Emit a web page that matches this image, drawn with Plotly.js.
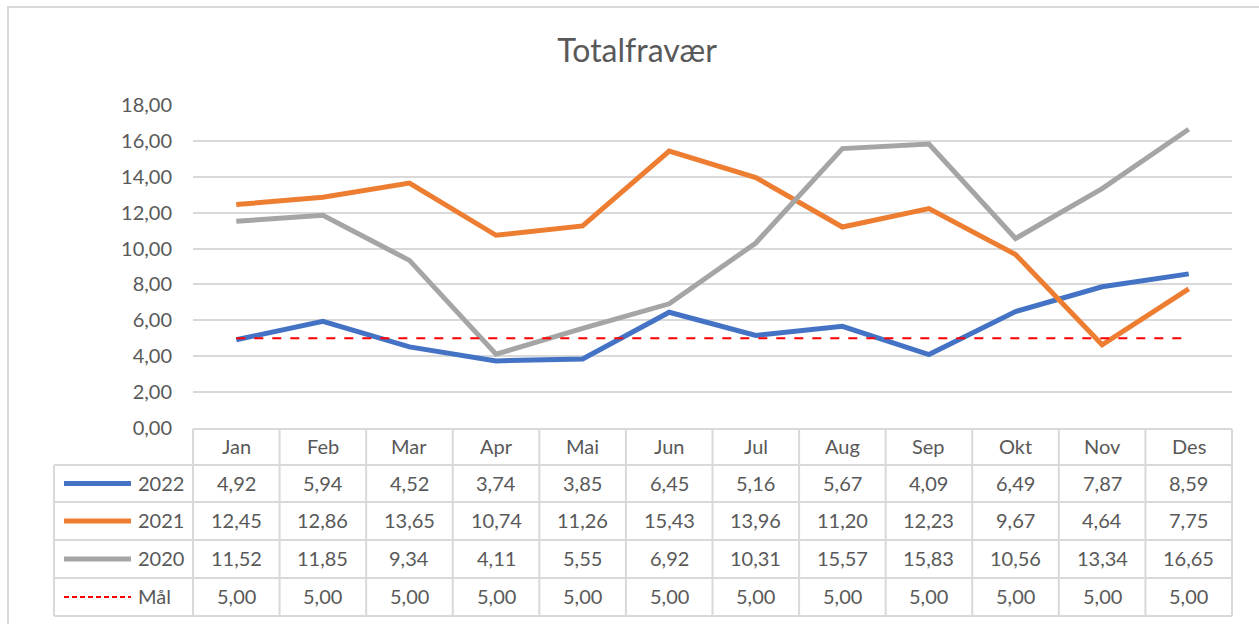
<!DOCTYPE html>
<html>
<head>
<meta charset="utf-8">
<script src="https://cdn.plot.ly/plotly-3.0.1.min.js"></script>
<style>
html,body{margin:0;padding:0;background:#fff;}
#chart{width:1259px;height:624px;}
</style>
</head>
<body>
<div id="chart"></div>
<script>
const months = ['Jan','Feb','Mar','Apr','Mai','Jun','Jul','Aug','Sep','Okt','Nov','Des'];
const y2022 = [4.92,5.94,4.52,3.74,3.85,6.45,5.16,5.67,4.09,6.49,7.87,8.59];
const y2021 = [12.45,12.86,13.65,10.74,11.26,15.43,13.96,11.20,12.23,9.67,4.64,7.75];
const y2020 = [11.52,11.85,9.34,4.11,5.55,6.92,10.31,15.57,15.83,10.56,13.34,16.65];
const maal  = [5.00,5.00,5.00,5.00,5.00,5.00,5.00,5.00,5.00,5.00,5.00,5.00];
const seriesNames = ['2022','2021','2020','Mål'];
const yTicks = [0,2,4,6,8,10,12,14,16,18];

const W = 1259, H = 624;
const plotL = 193, plotR = 1232, plotT = 105, plotB = 428;
const pw = plotR - plotL, ph = plotB - plotT;
const px2x = p => (p - plotL) / pw;
const py2y = p => (plotB - p) / ph;

const font = "Lato, 'Open Sans', sans-serif";
const txtColor = '#595959';
const gridColor = '#d9d9d9';
const fs = 20;

const styles = [
  {color:'#4472C4', width:5, dash:'solid'},
  {color:'#ED7D31', width:5, dash:'solid'},
  {color:'#A5A5A5', width:5, dash:'solid'},
  {color:'#FF0000', width:2, dash:'dash'}
];
const data = [y2022, y2021, y2020, maal];

const traces = data.map((d,i) => ({
  type:'scatter', mode:'lines', x: months, y: d, name: seriesNames[i],
  line:{color:styles[i].color, width:styles[i].width, dash:styles[i].dash, shape:'linear'},
  hoverinfo:'skip'
}));
const shapes = [];
const annotations = [];

// table geometry (pixels)
const rowB = [429, 465, 502, 540, 578, 616];
const leftX = 54;
const lineStyle = {color: gridColor, width: 2};
shapes.push({type:'line', xref:'paper', yref:'paper', x0:0, x1:1, y0:py2y(rowB[0]), y1:py2y(rowB[0]), line:lineStyle});
for (let r = 1; r < rowB.length; r++) {
  shapes.push({type:'line', xref:'paper', yref:'paper', x0:px2x(leftX), x1:1, y0:py2y(rowB[r]), y1:py2y(rowB[r]), line:lineStyle});
}
for (let k = 0; k <= months.length; k++) {
  const xx = k / months.length;
  shapes.push({type:'line', xref:'paper', yref:'paper', x0:xx, x1:xx, y0:py2y(rowB[0]), y1:py2y(rowB[5]), line:lineStyle});
}
shapes.push({type:'line', xref:'paper', yref:'paper', x0:px2x(leftX), x1:px2x(leftX), y0:py2y(rowB[1]), y1:py2y(rowB[5]), line:lineStyle});

months.forEach((m,i) => {
  annotations.push({xref:'paper', yref:'paper', x:(i+0.5)/months.length, y:py2y((rowB[0]+rowB[1])/2 - 1),
    text:m, showarrow:false, xanchor:'center', yanchor:'middle', font:{family:font, size:fs, color:txtColor}});
});
const fmt = v => v.toFixed(2).replace('.', ',');
data.forEach((d,r) => {
  const cy = py2y((rowB[r+1]+rowB[r+2])/2 - 1);
  d.forEach((v,i) => {
    annotations.push({xref:'paper', yref:'paper', x:(i+0.5)/months.length, y:cy,
      text:fmt(v), showarrow:false, xanchor:'center', yanchor:'middle', font:{family:font, size:fs, color:txtColor}});
  });
  const ly = py2y((rowB[r+1]+rowB[r+2])/2);
  shapes.push({type:'line', xref:'paper', yref:'paper', x0:px2x(64), x1:px2x(131), y0:ly, y1:ly,
    line:{color:styles[r].color, width:styles[r].dash==='dash'?2:5, dash:styles[r].dash==='dash'?'5px,3px':'solid'}});
  annotations.push({xref:'paper', yref:'paper', x:px2x(136), y:cy, text:seriesNames[r], showarrow:false,
    xanchor:'left', yanchor:'middle', font:{family:font, size:fs, color:txtColor}});
});

shapes.push({type:'rect', xref:'paper', yref:'paper', x0:px2x(8), x1:px2x(1262), y0:py2y(7), y1:py2y(630),
  line:{color:'#d9d9d9', width:2}, fillcolor:'rgba(0,0,0,0)'});

const layout = {
  width: W, height: H,
  margin: {l: plotL, r: W - plotR, t: plotT, b: H - plotB, pad: 0},
  paper_bgcolor:'#ffffff', plot_bgcolor:'#ffffff',
  separators: ', ',
  showlegend: false,
  title: {text:'Totalfravær', x:0.506, xanchor:'center', y:1 - 51/H, yanchor:'middle',
    font:{family:font, size:32, color:txtColor}},
  xaxis: {type:'category', range:[-0.5, 11.5], showticklabels:false, showgrid:false, zeroline:false,
    showline:false, ticks:''},
  yaxis: {range:[0,18], tickvals: yTicks, tickformat:'.2f', showgrid:true, gridcolor:gridColor, gridwidth:2,
    zeroline:false, showline:false, ticks:'', ticklabelstandoff: 20,
    tickfont:{family:font, size:fs, color:txtColor}},
  shapes: shapes,
  annotations: annotations
};

Plotly.newPlot('chart', traces, layout, {staticPlot:true, displayModeBar:false});
</script>
</body>
</html>
